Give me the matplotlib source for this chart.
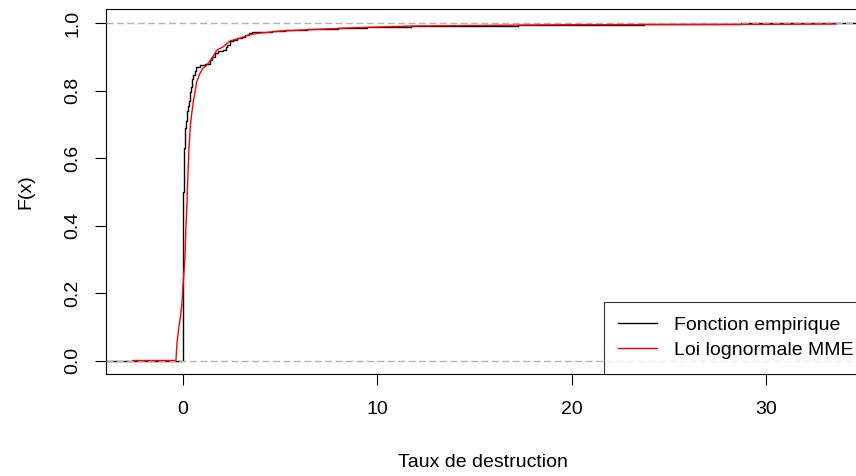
import matplotlib
matplotlib.use("Agg")
import matplotlib.pyplot as plt

plt.rcParams["font.family"] = ["Liberation Sans", "DejaVu Sans"]

# empirical CDF: jump positions and level reached after each jump
ecdf_x = [0.00, 0.01, 0.02, 0.03, 0.05, 0.08, 0.12, 0.15, 0.19, 0.22, 0.27,
          0.31, 0.34, 0.37, 0.41, 0.45, 0.49, 0.53, 0.60, 0.67, 0.90, 1.13,
          1.29, 1.40, 1.52, 1.65, 1.80, 2.06, 2.20, 2.26, 2.42, 2.60, 2.78,
          3.03, 3.20, 3.40, 3.55, 4.58, 5.25, 6.40, 8.00, 9.46, 11.72, 17.22,
          23.75, 28.74]
ecdf_F = [0.15, 0.35, 0.50, 0.59, 0.63, 0.665, 0.69, 0.71, 0.725, 0.74, 0.755,
          0.77, 0.78, 0.795, 0.81, 0.825, 0.835, 0.846, 0.858, 0.870, 0.875, 0.878,
          0.88, 0.89, 0.90, 0.91, 0.917, 0.92, 0.93, 0.935, 0.947, 0.950, 0.955,
          0.958, 0.964, 0.970, 0.973, 0.976, 0.979, 0.982, 0.985, 0.988, 0.991, 0.994,
          0.997, 1.0]

# fitted lognormal (MME) CDF
fit_x = [-2.57, -0.36, -0.31, -0.23, -0.13, -0.05, 0.00, 0.10, 0.15, 0.21,
         0.26, 0.31, 0.39, 0.46, 0.54, 0.62, 0.70, 0.87, 1.03, 1.23, 1.49,
         1.75, 2.06, 2.42, 2.93, 3.45, 3.96, 4.99, 6.02, 8.84, 11.72, 19.9,
         30.2, 33.6]
fit_F = [0.0, 0.0, 0.05, 0.09, 0.13, 0.17, 0.22, 0.30, 0.39, 0.47,
         0.56, 0.63, 0.70, 0.735, 0.77, 0.795, 0.825, 0.85, 0.866, 0.875, 0.896,
         0.92, 0.929, 0.947, 0.955, 0.966, 0.970, 0.976, 0.979, 0.986, 0.991, 0.995,
         0.996, 0.997]

x_ticks = [0, 10, 20, 30]
y_ticks = [0.0, 0.2, 0.4, 0.6, 0.8, 1.0]
xlim = (-3.96, 34.84)
ylim = (-0.04, 1.04)

fig = plt.figure(figsize=(8.56, 4.76), dpi=100)
ax = fig.add_axes([106 / 856, 102 / 476, 754 / 856, 364.5 / 476])

step_x = [xlim[0]] + ecdf_x + [xlim[1]]
step_F = [0.0] + ecdf_F + [1.0]
ax.step(step_x, step_F, where="post", color="black", lw=1.0, zorder=2,
        label="Fonction empirique")
for level in (0.0, 1.0):
    ax.axhline(level, color="#b3b3b3", lw=1.0, dashes=(5, 2.5), zorder=3)
ax.plot(fit_x, fit_F, color="red", lw=1.0, zorder=4, label="Loi lognormale MME")

ax.set_xlim(*xlim)
ax.set_ylim(*ylim)
ax.set_xticks(x_ticks)
ax.set_yticks(y_ticks)
ax.set_yticklabels([f"{v:.1f}" for v in y_ticks], rotation=90, va="center")
ax.tick_params(length=8, width=0.8, labelsize=14, direction="out")
ax.tick_params(axis="x", pad=11.5)
ax.tick_params(axis="y", pad=9.5)
for spine in ax.spines.values():
    spine.set_linewidth(0.8)

ax.set_xlabel("Taux de destruction", fontsize=14, labelpad=26)
ax.set_ylabel("F(x)", fontsize=14, labelpad=22)

# legend sits in the bottom right corner, its right edge running past the frame
leg = ax.legend(loc="lower right", bbox_to_anchor=(1.0106, 0.0), fontsize=14,
                frameon=True, fancybox=False, borderaxespad=0,
                handlelength=1.96, handletextpad=0.88,
                labelspacing=0.39, borderpad=0.76)
leg.get_frame().set_edgecolor("black")
leg.get_frame().set_linewidth(0.8)

fig.savefig("out.png", dpi=100)
